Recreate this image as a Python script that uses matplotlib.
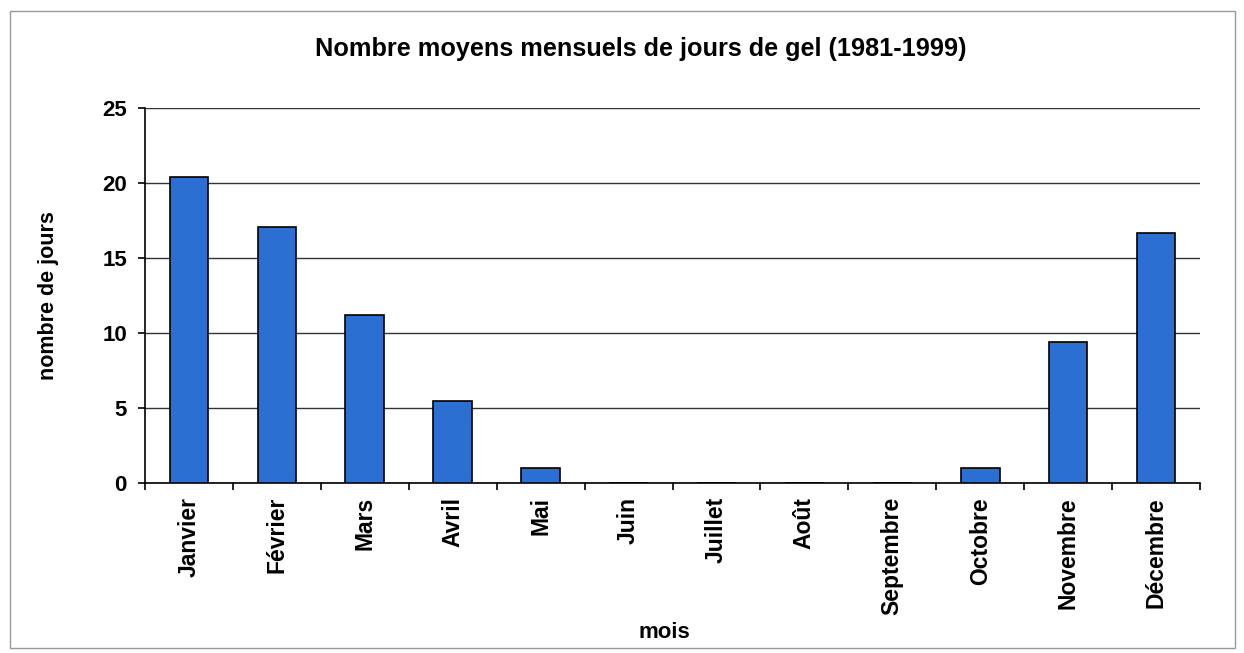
import matplotlib
matplotlib.use("Agg")
import matplotlib.pyplot as plt
from matplotlib.patches import Rectangle
import numpy as np

months = ["Janvier", "Février", "Mars", "Avril", "Mai", "Juin", "Juillet", "Août",
          "Septembre", "Octobre", "Novembre", "Décembre"]
jours_gel = [20.4, 17.1, 11.2, 5.5, 1.0, 0, 0, 0, 0, 1.0, 9.4, 16.7]
yticks = [0, 5, 10, 15, 20, 25]

plt.rcParams['font.family'] = ['Liberation Sans', 'DejaVu Sans']
plt.rcParams['font.weight'] = 'bold'

fig = plt.figure(figsize=(12.44, 6.53), dpi=100)
fig.patches.append(Rectangle((0.008, 0.008), 0.985, 0.975, transform=fig.transFigure,
                             fill=False, edgecolor='#999999', linewidth=1.0))
ax = fig.add_axes([0.1166, 0.2603, 0.848, 0.5743])

x = np.arange(len(months))
ax.bar(x, jours_gel, width=0.44, color='#2a6fd1', edgecolor='black', linewidth=1.2, zorder=3)

ax.set_xlim(-0.5, len(months) - 0.5)
ax.set_ylim(0, 25)
ax.set_yticks(yticks)
ax.set_yticklabels([str(v) for v in yticks], fontsize=16, fontweight='bold')
ax.yaxis.grid(True, color='#333333', linewidth=1.0, zorder=0)
ax.set_axisbelow(True)

ax.set_xticks(x)
ax.set_xticklabels(months, rotation=90, fontsize=16.5, fontweight='bold')
ax.tick_params(axis='x', length=0, pad=10)
ax.set_xticks(np.arange(-0.5, len(months) + 0.5, 1), minor=True)
ax.tick_params(axis='x', which='minor', length=5, direction='out', width=1.2)
ax.tick_params(axis='y', length=5, width=1.2, pad=8)

for s in ['top', 'right']:
    ax.spines[s].set_visible(False)
ax.spines['left'].set_linewidth(1.2)
ax.spines['bottom'].set_linewidth(1.2)

ax.set_ylabel("nombre de jours", fontsize=15.5, fontweight='bold', labelpad=31)
fig.text(0.534, 0.031, "mois", ha='center', va='center', fontsize=16, fontweight='bold')
fig.text(0.515, 0.925, "Nombre moyens mensuels de jours de gel (1981-1999)",
         ha='center', va='center', fontsize=18.2, fontweight='bold')

fig.savefig("out.png", dpi=100)
